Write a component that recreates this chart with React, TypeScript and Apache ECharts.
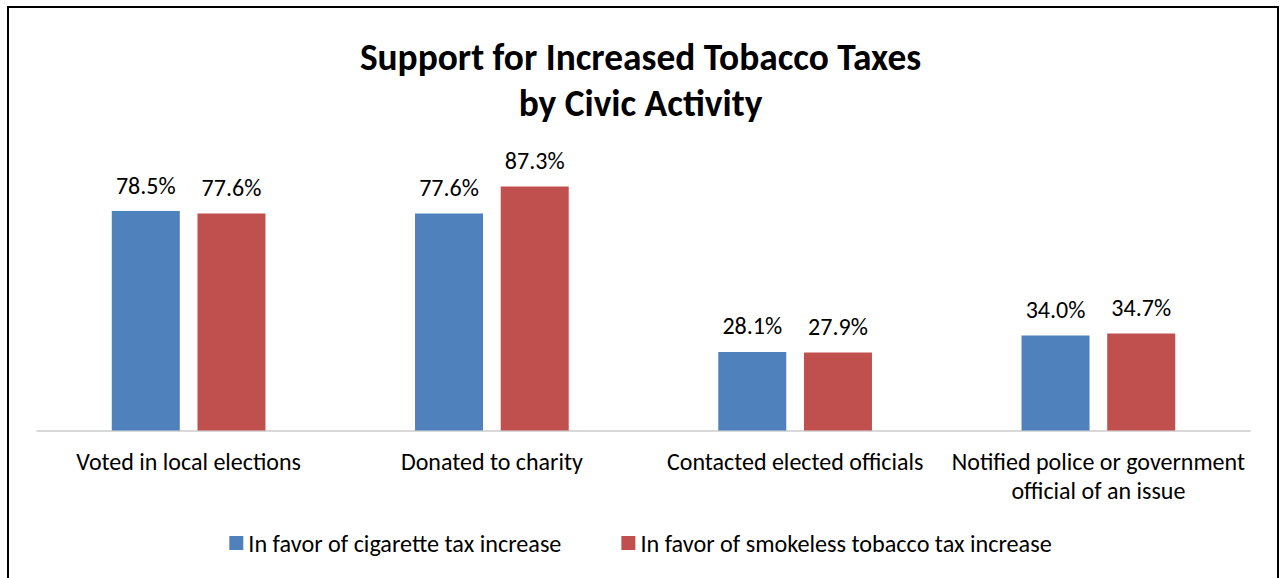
import React, { useEffect, useRef } from "react";
import * as echarts from "echarts";

const categories = [
  "Voted in local elections",
  "Donated to charity",
  "Contacted elected officials",
  "Notified police or government official of an issue",
];
const cigarette = [78.5, 77.6, 28.1, 34.0];
const smokeless = [77.6, 87.3, 27.9, 34.7];
const seriesNames = [
  "In favor of cigarette tax increase",
  "In favor of smokeless tobacco tax increase",
];

const FONT = "Carlito, 'Liberation Sans', 'Open Sans', sans-serif";

export default function App() {
  const ref = useRef<HTMLDivElement>(null);
  useEffect(() => {
    const chart = echarts.init(ref.current!, undefined, { renderer: "svg" });
    const label = {
      show: true,
      position: "top" as const,
      distance: 14,
      color: "#000",
      fontSize: 24,
      fontFamily: FONT,
      formatter: (p: any) => Number(p.value).toFixed(1) + "%",
    };
    chart.setOption({
      animation: false,
      backgroundColor: "#fff",
      title: {
        text: "Support for Increased Tobacco Taxes\nby Civic Activity",
        left: "center",
        top: 29,
        textStyle: {
          fontFamily: FONT,
          fontWeight: "bold",
          fontSize: 37.4,
          lineHeight: 46,
          color: "#000",
        },
      },
      legend: {
        bottom: 18,
        left: "center",
        itemWidth: 14,
        itemHeight: 14,
        itemGap: 60,
        icon: "rect",
        textStyle: { fontFamily: FONT, fontSize: 24.2, color: "#000" },
        data: seriesNames,
      },
      grid: { left: 37, right: 31, top: 151, height: 279.5, containLabel: false },
      xAxis: {
        type: "category",
        data: categories,
        axisLine: { lineStyle: { color: "#d9d9d9", width: 2 } },
        axisTick: { show: false },
        axisLabel: {
          margin: 16,
          fontFamily: FONT,
          fontSize: 24,
          lineHeight: 29,
          color: "#000",
          interval: 0,
          formatter: (v: string) => v.replace(" official of", "\nofficial of"),
        },
      },
      yAxis: {
        type: "value",
        min: 0,
        max: 100,
        show: false,
        splitLine: { show: false },
      },
      series: [
        {
          name: seriesNames[0],
          type: "bar",
          data: cigarette,
          barWidth: 68,
          barGap: "26%",
          itemStyle: { color: "#4f81bd" },
          label,
        },
        {
          name: seriesNames[1],
          type: "bar",
          data: smokeless,
          barWidth: 68,
          barGap: "26%",
          itemStyle: { color: "#c0504d" },
          label,
        },
      ],
      graphic: [
        {
          type: "rect",
          shape: { x: 8, y: 7, width: 1270, height: 600 },
          style: { fill: "none", stroke: "#000", lineWidth: 2 },
          silent: true,
        },
      ],
    });
    return () => chart.dispose();
  }, []);
  return (
    <div
      ref={ref}
      style={{ position: "fixed", left: 0, top: 0, width: 1281, height: 578 }}
    />
  );
}
